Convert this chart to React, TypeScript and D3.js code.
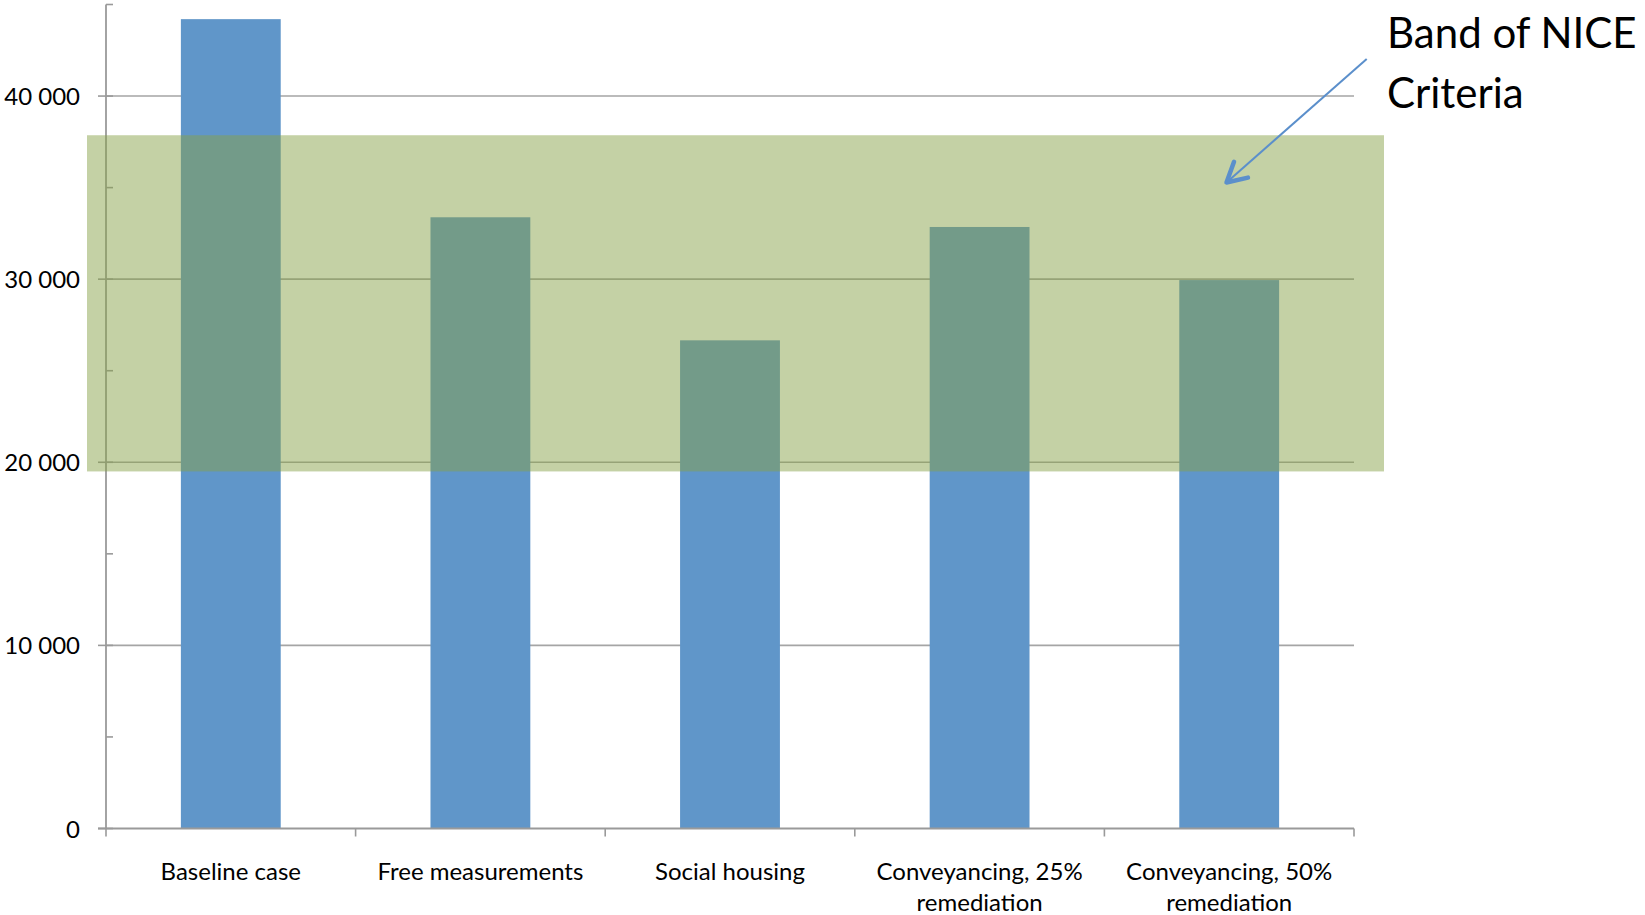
import React from "react";
import * as d3 from "d3";

const categories: string[][] = [
  ["Baseline case"],
  ["Free measurements"],
  ["Social housing"],
  ["Conveyancing, 25%", "remediation"],
  ["Conveyancing, 50%", "remediation"],
];
const values: number[] = [44200, 33380, 26660, 32850, 29950];
const yTicks: number[] = [0, 10000, 20000, 30000, 40000];
const yMinorTicks: number[] = [5000, 15000, 25000, 35000, 45000];
const yMax = 45000;
const niceBand: [number, number] = [19500, 37860];
const annotationLines: string[] = ["Band of NICE", "Criteria"];

const W = 1645;
const H = 915;
const left = 106;
const right = 1354;
const top = 4.5;
const bottom = 828.5;

const FONT = "Lato, 'Open Sans', sans-serif";

export default function App() {
  const x = d3
    .scaleBand<number>()
    .domain(d3.range(categories.length))
    .range([left, right])
    .paddingInner(0.6)
    .paddingOuter(0.3);
  const y = d3.scaleLinear().domain([0, yMax]).range([bottom, top]);
  const step = x.step();
  const catEdges = d3.range(categories.length + 1).map((i) => left + i * step);
  const fmt = (v: number) => d3.format(",")(v).replace(/,/g, " ");

  const axisColor = "#9a9a9a";
  const gridColor = "#a5a5a5";

  const aStart: [number, number] = [1366.7, 59];
  const aEnd: [number, number] = [1226.5, 182.5];
  const ang = Math.atan2(aEnd[1] - aStart[1], aEnd[0] - aStart[0]);
  const headLen = 22;
  const headAng = 0.5;
  const h1: [number, number] = [
    aEnd[0] - headLen * Math.cos(ang - headAng),
    aEnd[1] - headLen * Math.sin(ang - headAng),
  ];
  const h2: [number, number] = [
    aEnd[0] - headLen * Math.cos(ang + headAng),
    aEnd[1] - headLen * Math.sin(ang + headAng),
  ];

  return (
    <svg
      width={W}
      height={H}
      style={{ position: "absolute", left: 0, top: 0, display: "block", background: "#fff" }}
      fontFamily={FONT}
    >
      {yTicks.slice(1).map((t) => (
        <line key={"g" + t} x1={left} x2={right} y1={y(t)} y2={y(t)} stroke={gridColor} strokeWidth={1.6} />
      ))}
      {values.map((v, i) => (
        <rect
          key={"b" + i}
          x={x(i)!}
          y={y(v)}
          width={x.bandwidth()}
          height={y(0) - y(v)}
          fill="#6096C9"
        />
      ))}
      <line x1={left} x2={left} y1={top} y2={bottom} stroke={axisColor} strokeWidth={1.8} />
      {yTicks.map((t) => (
        <line key={"mt" + t} x1={left - 8} x2={left + 7} y1={y(t)} y2={y(t)} stroke={axisColor} strokeWidth={1.6} />
      ))}
      {yMinorTicks.map((t) => (
        <line key={"nt" + t} x1={left} x2={left + 7} y1={y(t)} y2={y(t)} stroke={axisColor} strokeWidth={1.6} />
      ))}
      <line x1={left - 8} x2={right} y1={bottom} y2={bottom} stroke={axisColor} strokeWidth={1.8} />
      {catEdges.map((e, i) => (
        <line key={"xt" + i} x1={e} x2={e} y1={bottom} y2={bottom + 8} stroke={axisColor} strokeWidth={1.6} />
      ))}
      <rect
        x={left - 19}
        y={y(niceBand[1])}
        width={right - left + 49}
        height={y(niceBand[0]) - y(niceBand[1])}
        fill="rgb(135,161,71)"
        fillOpacity={0.49}
      />
      {yTicks.map((t) => (
        <text key={"yl" + t} x={80} y={y(t) + 9} textAnchor="end" fontSize={24} fill="#000">
          {fmt(t)}
        </text>
      ))}
      {categories.map((lines, i) => (
        <text key={"cl" + i} x={x(i)! + x.bandwidth() / 2} y={880} textAnchor="middle" fontSize={24} fill="#000">
          {lines.map((l, j) => (
            <tspan key={j} x={x(i)! + x.bandwidth() / 2} dy={j === 0 ? 0 : 31}>
              {l}
            </tspan>
          ))}
        </text>
      ))}
      <line x1={aStart[0]} y1={aStart[1]} x2={aEnd[0]} y2={aEnd[1]} stroke="#5B8FCB" strokeWidth={2} />
      <polyline
        points={[h1, aEnd, h2].map((p) => p.join(",")).join(" ")}
        fill="none"
        stroke="#5B8FCB"
        strokeWidth={4.5}
        strokeLinecap="round"
        strokeLinejoin="round"
      />
      <text x={1387} y={48} fontSize={42} fill="#000">
        {annotationLines.map((l, j) => (
          <tspan key={j} x={1387} dy={j === 0 ? 0 : 60}>
            {l}
          </tspan>
        ))}
      </text>
    </svg>
  );
}
